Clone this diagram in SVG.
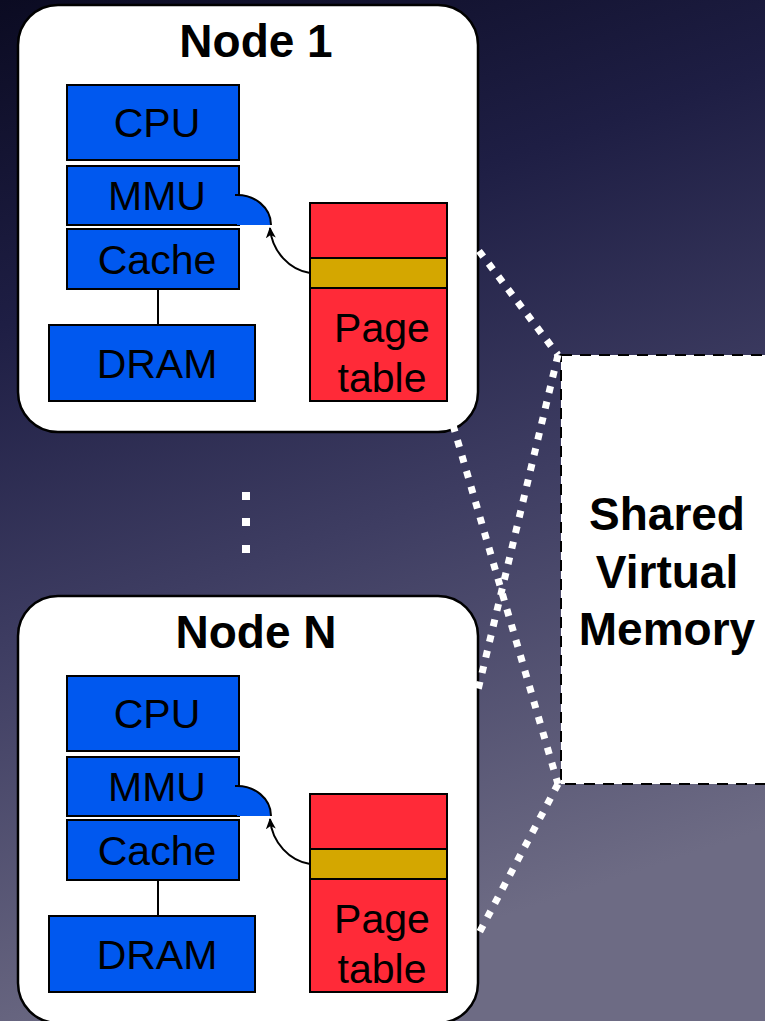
<svg xmlns="http://www.w3.org/2000/svg" width="765" height="1021" viewBox="0 0 765 1021">
<defs>
<linearGradient id="bg" x1="0" y1="0" x2="0.25" y2="1">
<stop offset="0" stop-color="#0b0b22"/>
<stop offset="0.3" stop-color="#1e1e44"/>
<stop offset="0.6" stop-color="#3e3d62"/>
<stop offset="1" stop-color="#6d6b84"/>
</linearGradient>
<marker id="ah" markerWidth="12" markerHeight="12" refX="10" refY="5" orient="auto" markerUnits="userSpaceOnUse" viewBox="0 0 12 10">
<path d="M0,0 L11,5 L0,10 L3,5 Z" fill="#000"/>
</marker>
</defs>
<style>
.box{fill:#fff;stroke:#000;stroke-width:2.5}
.blue{fill:#0058ef;stroke:#000;stroke-width:2}
.red{fill:#ff2a38;stroke:#000;stroke-width:2}
.yel{fill:#d4a700;stroke:#000;stroke-width:2}
.lbl{font-family:"Liberation Sans",Arial,sans-serif;font-size:41px;fill:#000;text-anchor:middle}
.ttl{font-family:"Liberation Sans",Arial,sans-serif;font-size:46px;font-weight:bold;fill:#000;text-anchor:middle}
.dot{fill:none;stroke:#fff;stroke-width:7;stroke-dasharray:7 9}
.ln{fill:none;stroke:#000;stroke-width:2}
</style>
<rect width="765" height="1021" fill="url(#bg)"/>

<g id="shared-memory">
<rect x="561" y="355" width="230" height="429" fill="#fff" stroke="#000" stroke-width="2" stroke-dasharray="11 8"/>
<text class="ttl" x="667" y="530">Shared</text>
<text class="ttl" x="667" y="588">Virtual</text>
<text class="ttl" x="667" y="645">Memory</text>
</g>

<g id="node1">
<rect class="box" x="18" y="5" width="460" height="427" rx="40"/>
<text class="ttl" x="256" y="57">Node 1</text>
<rect class="blue" x="67" y="85" width="172" height="75"/>
<text class="lbl" x="157" y="137">CPU</text>
<rect class="blue" x="67" y="166" width="172" height="59"/>
<text class="lbl" x="157" y="210">MMU</text>
<path d="M237,195 A34,30 0 0 1 271,225 L237,225 Z" fill="#0058ef"/>
<path class="ln" d="M235,195 A34,30 0 0 1 271,225" stroke-width="1.5"/>
<rect class="blue" x="67" y="229" width="172" height="60"/>
<text class="lbl" x="157" y="274">Cache</text>
<line class="ln" x1="158" y1="289" x2="158" y2="325"/>
<rect class="blue" x="49" y="325" width="206" height="76"/>
<text class="lbl" x="157" y="378">DRAM</text>
<rect class="red" x="310" y="203" width="137" height="198"/>
<rect class="yel" x="310" y="258" width="137" height="30"/>
<text class="lbl" x="382" y="342">Page</text>
<text class="lbl" x="382" y="392">table</text>
<path class="ln" d="M310,273 C290,270 272,252 270,228" marker-end="url(#ah)"/>
</g>

<g id="ellipsis" fill="#fff">
<rect x="242" y="492" width="8" height="8"/>
<rect x="242" y="518" width="8" height="8"/>
<rect x="242" y="545" width="8" height="8"/>
</g>

<g id="nodeN" transform="translate(0,591)">
<rect class="box" x="18" y="5" width="460" height="427" rx="40"/>
<text class="ttl" x="256" y="57">Node N</text>
<rect class="blue" x="67" y="85" width="172" height="75"/>
<text class="lbl" x="157" y="137">CPU</text>
<rect class="blue" x="67" y="166" width="172" height="59"/>
<text class="lbl" x="157" y="210">MMU</text>
<path d="M237,195 A34,30 0 0 1 271,225 L237,225 Z" fill="#0058ef"/>
<path class="ln" d="M235,195 A34,30 0 0 1 271,225" stroke-width="1.5"/>
<rect class="blue" x="67" y="229" width="172" height="60"/>
<text class="lbl" x="157" y="274">Cache</text>
<line class="ln" x1="158" y1="289" x2="158" y2="325"/>
<rect class="blue" x="49" y="325" width="206" height="76"/>
<text class="lbl" x="157" y="378">DRAM</text>
<rect class="red" x="310" y="203" width="137" height="198"/>
<rect class="yel" x="310" y="258" width="137" height="30"/>
<text class="lbl" x="382" y="342">Page</text>
<text class="lbl" x="382" y="392">table</text>
<path class="ln" d="M310,273 C290,270 272,252 270,228" marker-end="url(#ah)"/>
</g>

<g id="connectors">
<line class="dot" x1="479" y1="251" x2="558" y2="355"/>
<line class="dot" x1="558" y1="355" x2="478" y2="690"/>
<line class="dot" x1="453" y1="425" x2="558" y2="784"/>
<line class="dot" x1="558" y1="784" x2="478" y2="935"/>
</g>
</svg>
